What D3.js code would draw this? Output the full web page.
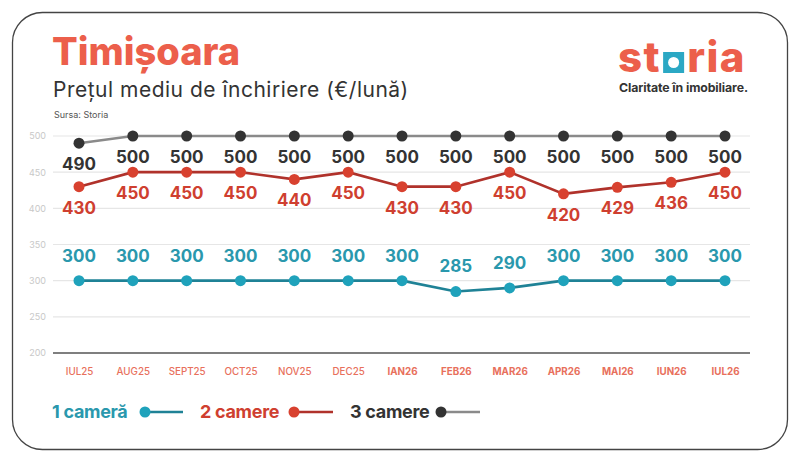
<!DOCTYPE html>
<html>
<head>
<meta charset="utf-8">
<script src="https://cdn.jsdelivr.net/npm/d3@7"></script>
<style>
  body { margin: 0; background: #fff; }
  svg { display: block; font-family: Inter, "Open Sans", sans-serif; }
</style>
</head>
<body>
<div id="chart"></div>
<script>
var months = ["IUL25", "AUG25", "SEPT25", "OCT25", "NOV25", "DEC25", "IAN26", "FEB26", "MAR26", "APR26", "MAI26", "IUN26", "IUL26"];
var boldFrom = 6; // labels from IAN26 on are bold
var cam1 = [300, 300, 300, 300, 300, 300, 300, 285, 290, 300, 300, 300, 300];
var cam2 = [430, 450, 450, 450, 440, 450, 430, 430, 450, 420, 429, 436, 450];
var cam3 = [490, 500, 500, 500, 500, 500, 500, 500, 500, 500, 500, 500, 500];
var yTicks = [200, 250, 300, 350, 400, 450, 500];
var seriesNames = ["1 cameră", "2 camere", "3 camere"];

var W = 800, H = 463;
var svg = d3.select("#chart").append("svg").attr("width", W).attr("height", H);

// card
svg.append("rect").attr("x", 12.5).attr("y", 12.5).attr("width", 775).attr("height", 437)
	.attr("rx", 30).attr("fill", "#fff").attr("stroke", "#444").attr("stroke-width", 1.3);

// headings
svg.append("text").attr("x", 52).attr("y", 65).text("Timișoara")
	.attr("fill", "#ec5f4b").attr("font-size", 38).attr("font-weight", 800);
svg.append("text").attr("x", 53).attr("y", 97).text("Prețul mediu de închiriere (€/lună)")
	.attr("fill", "#333").attr("font-size", 21).attr("font-weight", 400).attr("letter-spacing", 0.5);
svg.append("text").attr("x", 54).attr("y", 118).text("Sursa: Storia")
	.attr("fill", "#555").attr("font-size", 9);

// logo
var logo = svg.append("g").attr("transform", "translate(618,72)");
var st = logo.append("text").attr("x", 0).attr("y", 0).text("st")
	.attr("fill", "#ec5f4b").attr("font-size", 42).attr("font-weight", 800).attr("letter-spacing", 1.5);
var stW = st.node().getComputedTextLength();
logo.append("rect").attr("x", stW + 2).attr("y", -20).attr("width", 21).attr("height", 21).attr("fill", "#2ba8c4");
logo.append("circle").attr("cx", stW + 12.5).attr("cy", -9.5).attr("r", 5.5).attr("fill", "#fff");
logo.append("text").attr("x", stW + 26).attr("y", 0).text("ria")
	.attr("fill", "#ec5f4b").attr("font-size", 42).attr("font-weight", 800).attr("letter-spacing", 1.5);
svg.append("text").attr("x", 619).attr("y", 92).text("Claritate în imobiliare.")
	.attr("fill", "#333").attr("font-size", 12.3).attr("font-weight", 700).attr("letter-spacing", -0.1);

// scales
var x = d3.scalePoint().domain(months).range([79, 725]);
var y = d3.scaleLinear().domain([200, 500]).range([353, 136]);

// grid
svg.append("g").selectAll("line").data(yTicks.filter(function (t) { return t > 200; })).enter().append("line")
	.attr("x1", 53).attr("x2", 750)
	.attr("y1", function (d) { return y(d); }).attr("y2", function (d) { return y(d); })
	.attr("stroke", "#e6e6e6").attr("stroke-width", 1.2);
svg.append("line").attr("x1", 53).attr("x2", 750).attr("y1", y(200)).attr("y2", y(200))
	.attr("stroke", "#555").attr("stroke-width", 1.6);

var yAxis = svg.append("g").attr("transform", "translate(46,0)")
	.call(d3.axisLeft(y).tickValues(yTicks).tickSize(0).tickPadding(0));
yAxis.select(".domain").remove();
yAxis.selectAll("text").attr("fill", "#c8c8c8").attr("font-size", 9).attr("font-family", "Inter, sans-serif");

var xAxis = svg.append("g").attr("transform", "translate(0," + 372 + ")")
	.call(d3.axisBottom(x).tickSize(0).tickPadding(0));
xAxis.select(".domain").remove();
xAxis.selectAll("text").attr("fill", "#e8705c").attr("font-size", 9.8).attr("dy", "0.32em")
	.attr("font-family", "Inter, sans-serif")
	.attr("font-weight", function (d, i) { return i >= boldFrom ? 700 : 500; });

// series
var series = [
	{ name: seriesNames[2], values: cam3, line: "#8a8a8a", dot: "#333", text: "#333", off: 21 },
	{ name: seriesNames[1], values: cam2, line: "#b0322b", dot: "#d8412f", text: "#cf3f30", off: 21 },
	{ name: seriesNames[0], values: cam1, line: "#1f8296", dot: "#1fa2bb", text: "#2a98ad", off: -25 }
];

var line = d3.line().x(function (d, i) { return x(months[i]); }).y(function (d) { return y(d); });

series.forEach(function (s) {
	var g = svg.append("g");
	g.append("path").datum(s.values).attr("d", line).attr("fill", "none")
		.attr("stroke", s.line).attr("stroke-width", 2.6);
	g.selectAll("circle").data(s.values).enter().append("circle")
		.attr("cx", function (d, i) { return x(months[i]); })
		.attr("cy", function (d) { return y(d); })
		.attr("r", 5.5).attr("fill", s.dot);
	g.selectAll("text").data(s.values).enter().append("text")
		.attr("x", function (d, i) { return x(months[i]); })
		.attr("y", function (d) { return y(d) + s.off; })
		.attr("dy", "0.35em").attr("text-anchor", "middle")
		.attr("fill", s.text).attr("font-size", 17).attr("font-weight", 700)
		.text(function (d) { return d; });
});

// legend
var legend = [
	{ name: seriesNames[0], x: 52, color: "#2a98ad", dot: "#1fa2bb", line: "#1f8296", cx: 145, lx2: 183 },
	{ name: seriesNames[1], x: 200, color: "#cf3f30", dot: "#d8412f", line: "#b0322b", cx: 294, lx2: 333 },
	{ name: seriesNames[2], x: 350, color: "#333", dot: "#333", line: "#8a8a8a", cx: 441, lx2: 480 }
];
var lg = svg.append("g").selectAll("g").data(legend).enter().append("g");
lg.append("text").attr("x", function (d) { return d.x; }).attr("y", 418)
	.attr("fill", function (d) { return d.color; }).attr("font-size", 18).attr("font-weight", 700)
	.attr("letter-spacing", -0.3)
	.text(function (d) { return d.name; });
lg.append("line").attr("x1", function (d) { return d.cx; }).attr("x2", function (d) { return d.lx2; })
	.attr("y1", 412).attr("y2", 412).attr("stroke", function (d) { return d.line; }).attr("stroke-width", 2.4);
lg.append("circle").attr("cx", function (d) { return d.cx; }).attr("cy", 412).attr("r", 5.5)
	.attr("fill", function (d) { return d.dot; });
</script>
</body>
</html>
